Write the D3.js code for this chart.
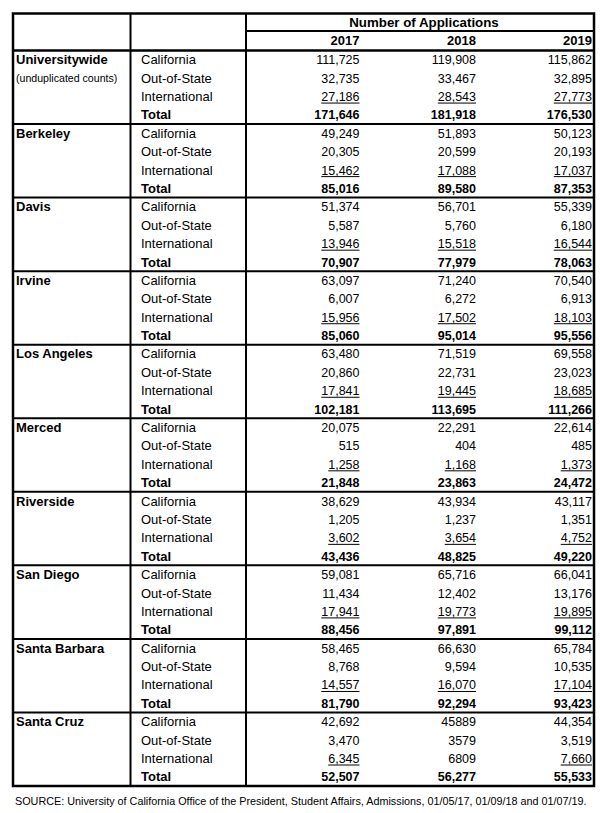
<!DOCTYPE html>
<html><head><meta charset="utf-8">
<script src="https://cdn.jsdelivr.net/npm/d3@7"></script>
<style>
html,body{margin:0;padding:0;background:#fff;}
svg{display:block;font-family:"Liberation Sans",Arial,sans-serif;}
</style></head>
<body><div id="chart"></div>
<script>
const campuses = ["Universitywide","Berkeley","Davis","Irvine","Los Angeles","Merced","Riverside","San Diego","Santa Barbara","Santa Cruz"];
const campusNotes = {"Universitywide":"(unduplicated counts)"};
const categories = ["California","Out-of-State","International","Total"];
const years = ["2017","2018","2019"];
const headerTitle = "Number of Applications";
const values2017 = [
 "111,725","32,735","27,186","171,646",
 "49,249","20,305","15,462","85,016",
 "51,374","5,587","13,946","70,907",
 "63,097","6,007","15,956","85,060",
 "63,480","20,860","17,841","102,181",
 "20,075","515","1,258","21,848",
 "38,629","1,205","3,602","43,436",
 "59,081","11,434","17,941","88,456",
 "58,465","8,768","14,557","81,790",
 "42,692","3,470","6,345","52,507"];
const values2018 = [
 "119,908","33,467","28,543","181,918",
 "51,893","20,599","17,088","89,580",
 "56,701","5,760","15,518","77,979",
 "71,240","6,272","17,502","95,014",
 "71,519","22,731","19,445","113,695",
 "22,291","404","1,168","23,863",
 "43,934","1,237","3,654","48,825",
 "65,716","12,402","19,773","97,891",
 "66,630","9,594","16,070","92,294",
 "45889","3579","6809","56,277"];
const values2019 = [
 "115,862","32,895","27,773","176,530",
 "50,123","20,193","17,037","87,353",
 "55,339","6,180","16,544","78,063",
 "70,540","6,913","18,103","95,556",
 "69,558","23,023","18,685","111,266",
 "22,614","485","1,373","24,472",
 "43,117","1,351","4,752","49,220",
 "66,041","13,176","19,895","99,112",
 "65,784","10,535","17,104","93,423",
 "44,354","3,519","7,660","55,533"];
const notUnderlined = [["Santa Cruz","2018"]];
const sourceNote = "SOURCE: University of California Office of the President, Student Affairs, Admissions, 01/05/17, 01/09/18 and 01/07/19.";

(function(){
const W = 607, H = 813;
const svg = d3.select("#chart").append("svg").attr("width", W).attr("height", H);

const xL = 13, xR = 594, yT = 13.5, head1 = 31, head2 = 50.5, yB = 786;
const col1 = 130.5, col2 = 246;

const rows = [];
campuses.forEach((c, ci) => categories.forEach((k, ki) => rows.push({campus: c, cat: k, ci, ki, idx: ci*4+ki})));
const valuesByYear = {"2017": values2017, "2018": values2018, "2019": values2019};

const y = d3.scaleBand().domain(d3.range(rows.length)).range([head2, yB]).padding(0);
const xYear = d3.scaleOrdinal().domain(years).range([359.5, 476, 592]);

const g = svg.append("g");
const fs = 13, fsNum = 12.5;
const dyb = 4.6;

g.append("text").attr("x", 424).attr("y", (yT + head1)/2 + dyb)
  .attr("text-anchor", "middle").attr("font-size", 13.3).attr("font-weight", "bold").text(headerTitle);
g.selectAll("text.year").data(years).join("text").attr("class","year")
  .attr("x", d => xYear(d)).attr("y", (head1 + head2)/2 + dyb)
  .attr("text-anchor", "end").attr("font-size", fs).attr("font-weight", "bold").text(d => d);

g.selectAll("text.campus").data(campuses).join("text").attr("class","campus")
  .attr("x", 16).attr("y", (d, i) => y(i*4) + y.bandwidth()/2 + dyb)
  .attr("font-size", fs).attr("font-weight", "bold").text(d => d);
g.selectAll("text.note").data(campuses.filter(c => campusNotes[c])).join("text").attr("class","note")
  .attr("x", 16).attr("y", d => y(campuses.indexOf(d)*4 + 1) + y.bandwidth()/2 + 4)
  .attr("font-size", 10.6).text(d => campusNotes[d]);

g.selectAll("text.cat").data(rows).join("text").attr("class","cat")
  .attr("x", 141).attr("y", d => y(d.idx) + y.bandwidth()/2 + dyb)
  .attr("font-size", fs).attr("font-weight", d => d.cat === "Total" ? "bold" : "normal").text(d => d.cat);

years.forEach(yr => {
  const vals = valuesByYear[yr];
  const sel = g.selectAll("text.v" + yr).data(rows).join("text").attr("class", "v" + yr)
    .attr("x", xYear(yr)).attr("y", d => y(d.idx) + y.bandwidth()/2 + dyb)
    .attr("text-anchor", "end").attr("font-size", fsNum)
    .attr("font-weight", d => d.cat === "Total" ? "bold" : "normal")
    .text(d => vals[d.idx]);
  sel.each(function(d) {
    if (d.cat !== "International") return;
    if (notUnderlined.some(p => p[0] === d.campus && p[1] === yr)) return;
    const w = this.getComputedTextLength();
    const by = y(d.idx) + y.bandwidth()/2 + dyb + 2;
    g.append("line").attr("x1", xYear(yr) - w).attr("x2", xYear(yr)).attr("y1", by).attr("y2", by)
      .attr("stroke", "#000").attr("stroke-width", 1);
  });
});

const lines = g.append("g").attr("stroke", "#000").attr("fill", "none");
lines.append("rect").attr("x", xL).attr("y", yT).attr("width", xR - xL).attr("height", yB - yT).attr("stroke-width", 2.5);
lines.append("line").attr("x1", col2).attr("x2", xR).attr("y1", head1).attr("y2", head1).attr("stroke-width", 2);
lines.append("line").attr("x1", xL).attr("x2", xR).attr("y1", head2).attr("y2", head2).attr("stroke-width", 2.5);
[col1, col2].forEach(x => lines.append("line").attr("x1", x).attr("x2", x).attr("y1", yT).attr("y2", yB).attr("stroke-width", 2));
lines.selectAll("line.sep").data(d3.range(1, campuses.length)).join("line").attr("class","sep")
  .attr("x1", xL).attr("x2", xR).attr("y1", d => y(d*4)).attr("y2", d => y(d*4)).attr("stroke-width", 2);

svg.append("text").attr("x", 15).attr("y", 805).attr("font-size", 10.8).text(sourceNote);
})();
</script></body></html>
